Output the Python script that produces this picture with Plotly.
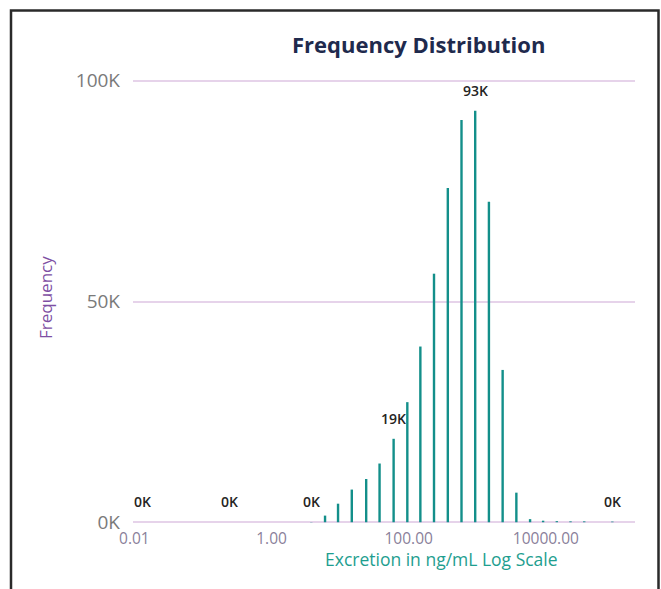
import math
import plotly.graph_objects as go

# ---- data ----
excretion = [0.013, 0.244, 3.8, 6.03, 9.33, 14.8, 24.0, 37.6, 60.3, 95.5, 148, 234,
             372, 589, 933, 1479, 2344, 3715, 5888, 9120, 14450, 22900, 36300, 93300]
frequency = [20, 30, 60, 1500, 4200, 7400, 9800, 13300, 18900, 27200, 39800, 56300,
             75700, 91100, 93200, 72600, 34500, 6700, 700, 350, 250, 200, 200, 150]
labeled_x = [0.013, 0.244, 3.8, 60.3, 933, 93300]

x_tickvals = [0.01, 1, 100, 10000]
x_ticktext = ["0.01", "1.00", "100.00", "10000.00"]
y_tickvals = [0, 50000, 100000]
y_ticktext = ["0K", "50K", "100K"]

BAR = "#138F8A"
GRID = "#E6D3EA"
FONT = "Open Sans"

# stems: vertical lines from 0 to value
sx, sy = [], []
for xv, yv in zip(excretion, frequency):
    sx += [xv, xv, None]
    sy += [0, yv, None]

fig = go.Figure()
fig.add_trace(go.Scatter(x=sx, y=sy, mode="lines",
                         line=dict(color=BAR, width=2.4),
                         hoverinfo="skip", showlegend=False))

W, H = 661, 589
Y0, Y1 = -400, 100400          # small padding so edge grid lines are drawn
px_per_unit = 442 / 100000
L, R = 133, 26
T = round(80.7 - (Y1 - 100000) * px_per_unit)
B = round(589 - 522.7 - (0 - Y0) * px_per_unit)
pw, ph = W - L - R, H - T - B

def px_x(p):
    return (p - L) / pw

def px_y(p):
    return (H - B - p) / ph

annotations = []
freq_map = dict(zip(excretion, frequency))
for xv in labeled_x:
    v = freq_map[xv]
    annotations.append(dict(
        x=math.log10(xv), y=v, xref="x", yref="y",
        text=f"{round(v / 1000)}K", showarrow=False,
        yanchor="bottom", yshift=9,
        font=dict(family=FONT, size=14, color="#252423", weight=600)))

# chart title
annotations.append(dict(x=px_x(418.5), y=px_y(44), xref="paper", yref="paper",
                        text="<b>Frequency Distribution</b>", showarrow=False,
                        xanchor="center", yanchor="middle",
                        font=dict(family=FONT, size=22, color="#1F2A4D")))
# x axis title
annotations.append(dict(x=px_x(441), y=px_y(559), xref="paper", yref="paper",
                        text="Excretion in ng/mL Log Scale", showarrow=False,
                        xanchor="center", yanchor="middle",
                        font=dict(family=FONT, size=17.5, color="#1E9E8F")))
# y axis title
annotations.append(dict(x=px_x(45), y=px_y(298), xref="paper", yref="paper",
                        text="Frequency", showarrow=False, textangle=-90,
                        xanchor="center", yanchor="middle",
                        font=dict(family=FONT, size=17, color="#7E4FA3")))

x0, x1 = px_x(11), px_x(658.5)
yt, yb = px_y(10.5), px_y(620)
border = dict(type="path", xref="paper", yref="paper",
              path=f"M {x0},{yb} L {x0},{yt} L {x1},{yt} L {x1},{yb}",
              line=dict(color="#2A2A2A", width=2.5), layer="above")

fig.update_layout(
    width=W, height=H,
    margin=dict(l=L, r=R, t=T, b=B, pad=0),
    paper_bgcolor="white", plot_bgcolor="white",
    showlegend=False,
    annotations=annotations,
    shapes=[border],
    xaxis=dict(type="log", range=[-2.02, 5.30],
               tickvals=x_tickvals, ticktext=x_ticktext,
               showgrid=False, zeroline=False, showline=False, ticks="",
               ticklabelstandoff=3,
               tickfont=dict(family=FONT, size=15.5, color="#8A7F9A")),
    yaxis=dict(range=[Y0, Y1], tickvals=y_tickvals, ticktext=y_ticktext,
               showgrid=True, gridcolor=GRID, gridwidth=2,
               zeroline=False, showline=False, ticks="",
               ticklabelstandoff=12,
               tickfont=dict(family=FONT, size=19, color="#7A7A7A")),
)

fig.write_html("out.html",
               config={"displayModeBar": False},
               post_script="document.body.style.margin='0';document.body.style.overflow='hidden';")
